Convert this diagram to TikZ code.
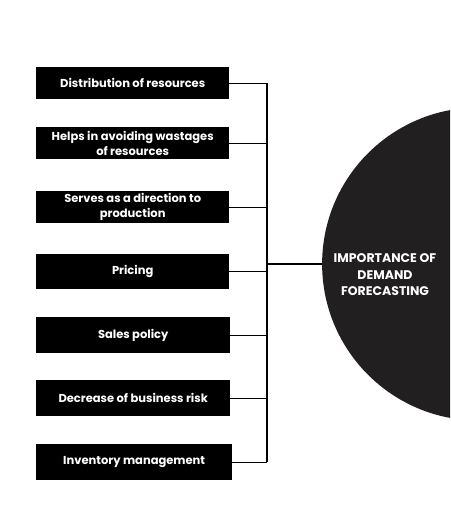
\documentclass[tikz,border=0pt]{standalone}
\usepackage{fontspec}
\setmainfont{Poppins}
\definecolor{hubgray}{HTML}{221F20}
\begin{document}
\begin{tikzpicture}[x=1pt,y=-1pt,
  itembox/.style={fill=black,text=white,font=\bfseries\fontsize{11.5}{15}\selectfont,align=center,inner sep=0pt,minimum width=193pt,anchor=north west},
  link/.style={line width=1.3pt,black}]
\useasboundingbox (0,0) rectangle (450,524);
\fill[white] (0,0) rectangle (450,524);
\begin{scope}
\clip (0,0) rectangle (450,524);
\node[circle,fill=hubgray,minimum size=313pt,inner sep=0pt] (hub) at (478.6,264) {};
\end{scope}
\node[text=white,font=\bfseries\fontsize{12.5}{16.5}\selectfont,align=center] (hubtext) at (385,275) {IMPORTANCE OF\\DEMAND\\FORECASTING};
\node[itembox,minimum height=32pt] (b1) at (36,67) {Distribution of resources};
\node[itembox,minimum height=32pt] (b2) at (36,127) {Helps in avoiding wastages\\of resources};
\node[itembox,minimum height=32pt] (b3) at (36,191) {Serves as a direction to\\production};
\node[itembox,minimum height=35pt] (b4) at (36,254) {Pricing};
\node[itembox,minimum height=36pt,minimum width=194pt] (b5) at (36,317) {Sales policy};
\node[itembox,minimum height=36pt,minimum width=194pt] (b6) at (36,380) {Decrease of business risk};
\node[itembox,minimum height=36pt,minimum width=196pt] (b7) at (36,444) {Inventory management};
\coordinate (spine) at (267,264);
\draw[link] (b1.east -| spine) -- (b7.east -| spine);
\foreach \b in {b1,b2,b3,b4,b5,b6,b7} {\draw[link] (\b.east) -- (\b.east -| spine);}
\draw[link] (spine) -- (hub.west);
\end{tikzpicture}
\end{document}
